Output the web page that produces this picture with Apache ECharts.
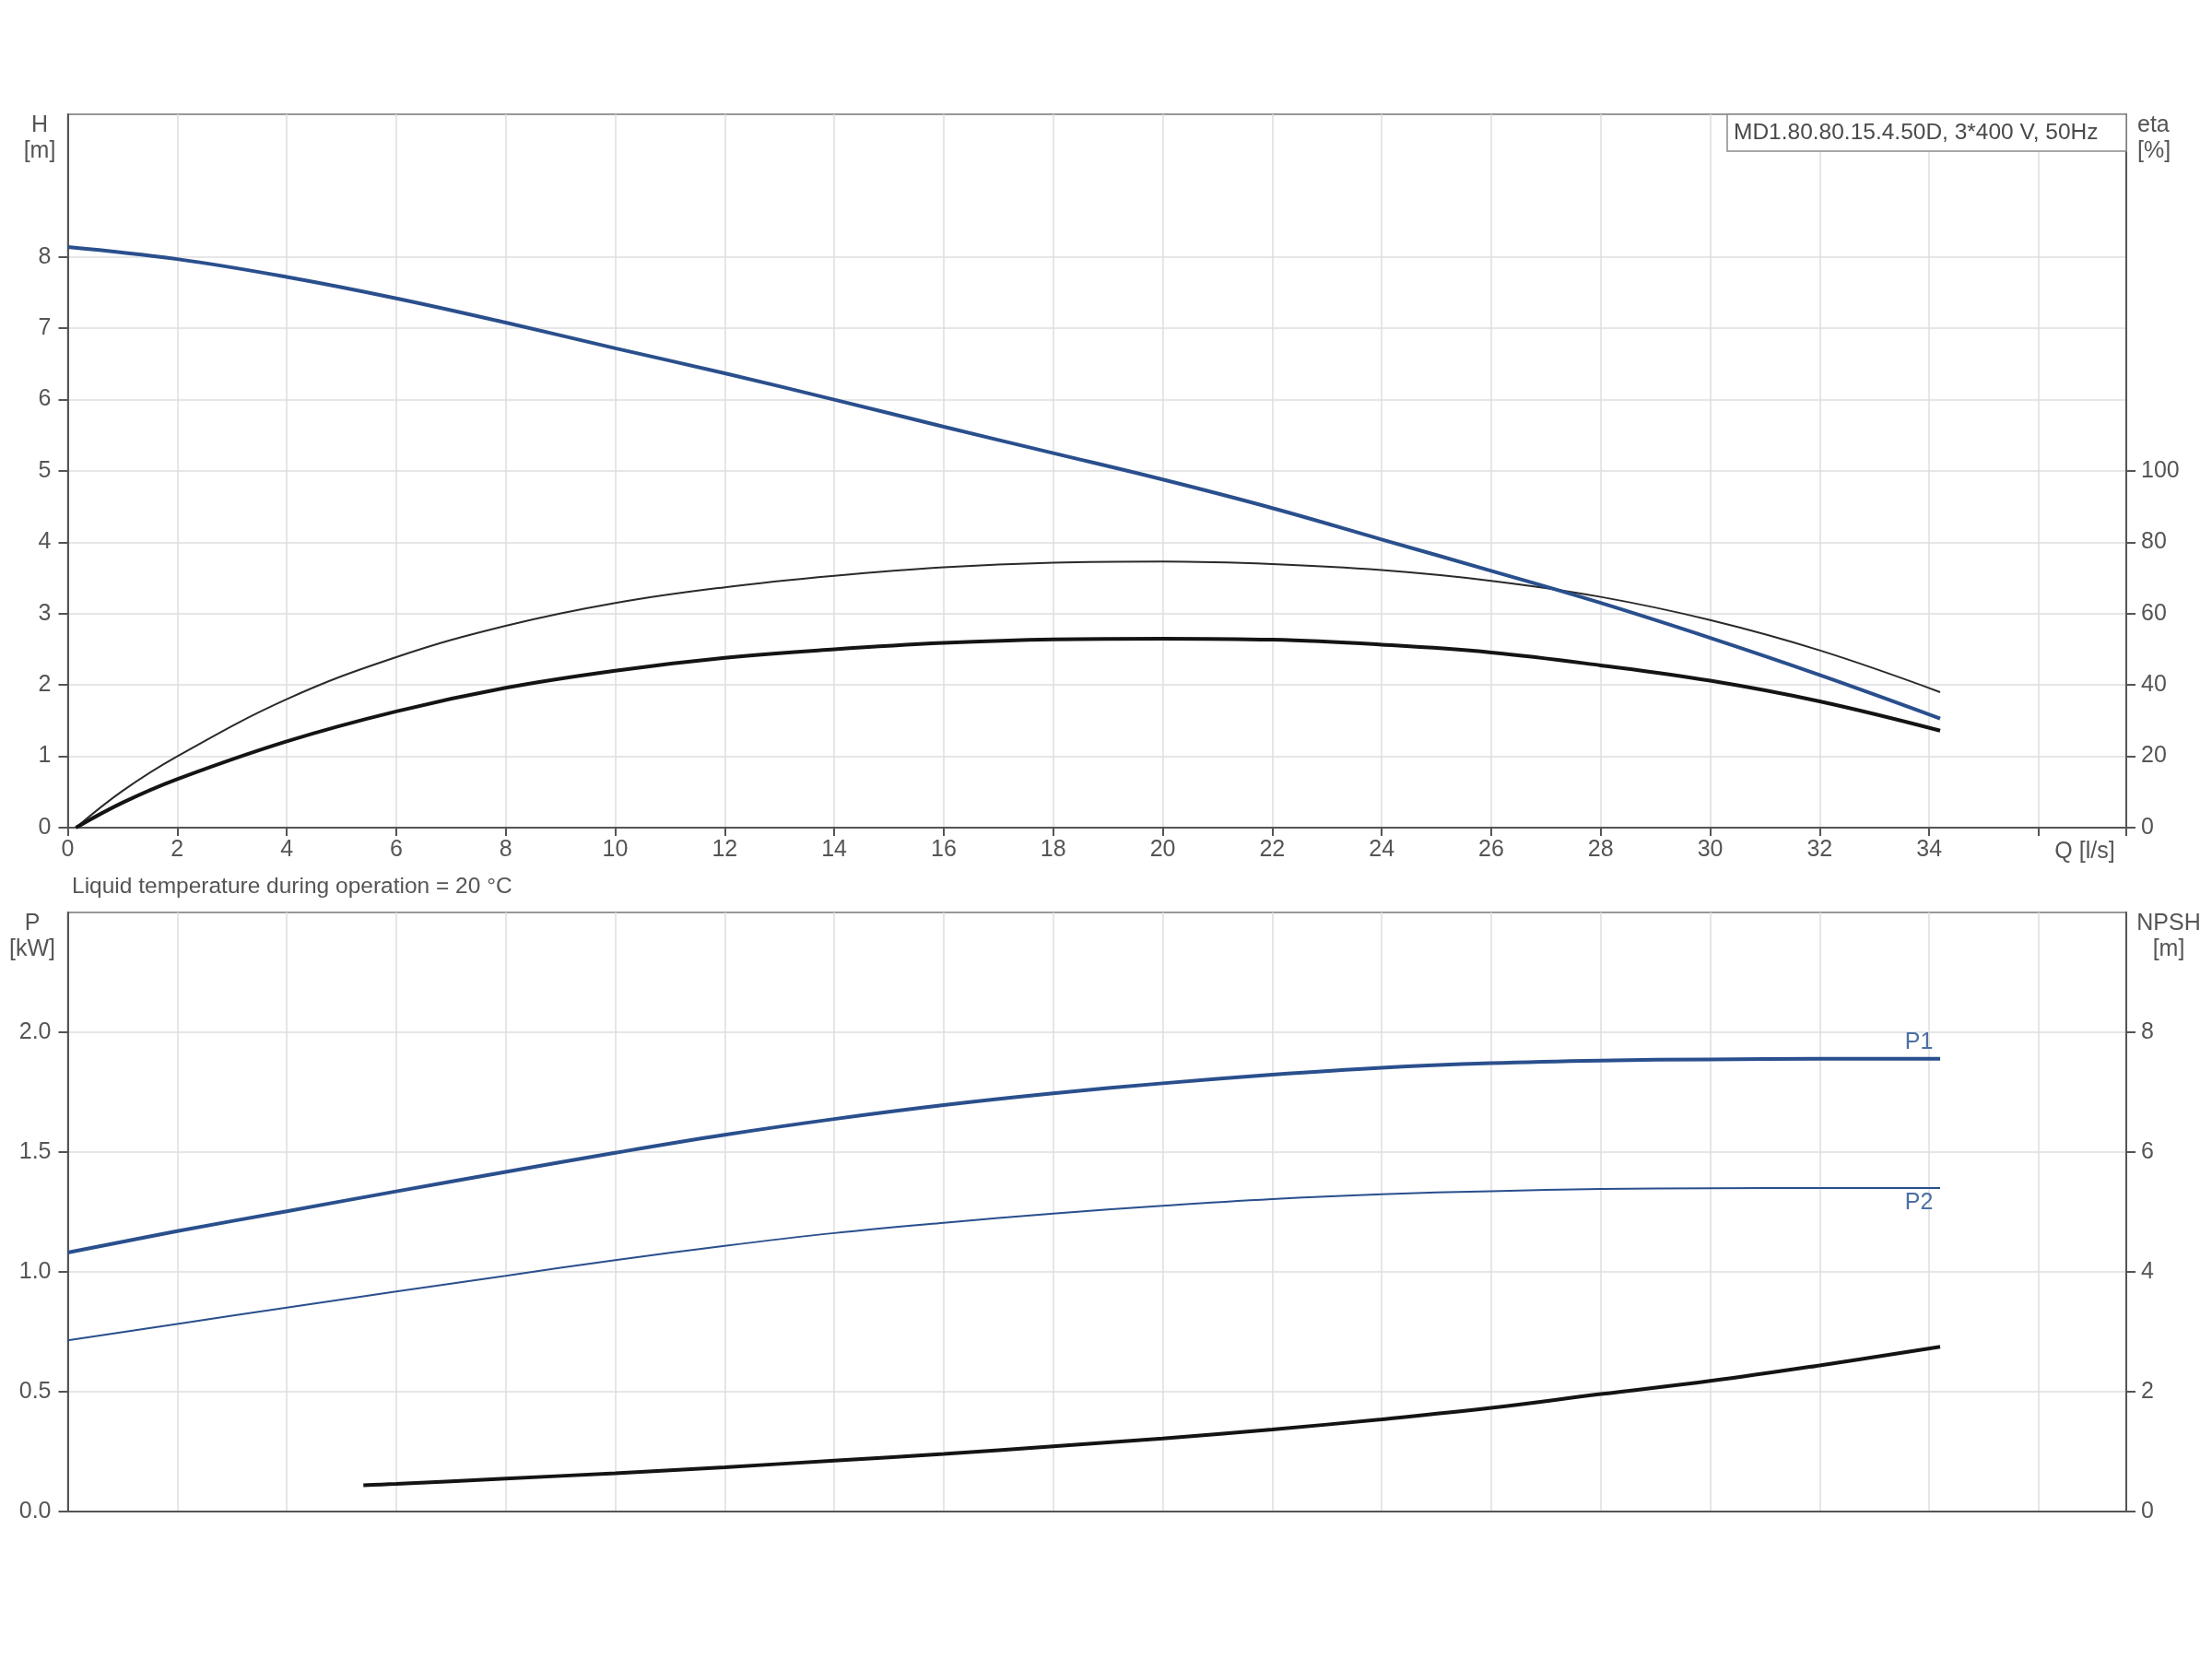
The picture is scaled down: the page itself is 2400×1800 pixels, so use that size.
<!DOCTYPE html>
<html>
<head>
<meta charset="utf-8">
<script src="https://cdn.jsdelivr.net/npm/echarts@6/dist/echarts.min.js"></script>
<style>
html,body{margin:0;padding:0;background:#fff;}
#chart{width:2400px;height:1800px;}
</style>
</head>
<body>
<div id="chart"></div>
<script>
// ---- Data ----
const qH = [0, 2, 4, 6, 8, 10, 12, 14, 16, 18, 20, 22, 24, 26, 28, 30, 32, 34.2];
const headH = [8.14, 7.97, 7.72, 7.42, 7.08, 6.72, 6.37, 6.0, 5.62, 5.25, 4.88, 4.48, 4.04, 3.60, 3.15, 2.66, 2.14, 1.53];

const qEta = [0.15, 1, 2, 4, 6, 8, 10, 12, 14, 16, 18, 20, 22, 24, 26, 28, 30, 32, 34.2];
const etaPump = [0, 10.3, 20, 36.0, 47.8, 56.6, 63, 67.4, 70.6, 73, 74.3, 74.6, 73.9, 72.2, 69.2, 64.7, 58.2, 49.7, 38];
const etaTotal = [0, 7, 13.6, 24.2, 32.6, 39.2, 44, 47.6, 50, 51.8, 52.8, 53, 52.7, 51.3, 49.1, 45.5, 41.2, 35.4, 27.2];

const qP = [0, 2, 4, 6, 8, 10, 12, 14, 16, 18, 20, 22, 24, 26, 28, 30, 32, 34.2];
const powerP1 = [1.081, 1.17, 1.253, 1.336, 1.417, 1.497, 1.572, 1.638, 1.696, 1.745, 1.787, 1.823, 1.852, 1.871, 1.882, 1.887, 1.889, 1.889];
const powerP2 = [0.714, 0.783, 0.851, 0.918, 0.984, 1.049, 1.109, 1.162, 1.205, 1.243, 1.276, 1.304, 1.324, 1.337, 1.346, 1.349, 1.35, 1.35];

const qNpsh = [5.4, 6, 8, 10, 12, 14, 16, 18, 20, 22, 24, 26, 28, 30, 32, 34.2];
const npsh = [0.44, 0.46, 0.55, 0.64, 0.74, 0.85, 0.96, 1.09, 1.22, 1.37, 1.54, 1.73, 1.96, 2.18, 2.44, 2.75];

const hTickLabels = [0, 1, 2, 3, 4, 5, 6, 7, 8];
const etaTickLabels = [0, 20, 40, 60, 80, 100];
const pTickLabels = [0, 0.5, 1.0, 1.5, 2.0];
const npshTickLabels = [0, 2, 4, 6, 8];
const qLastLabel = 34;

const titleText = 'MD1.80.80.15.4.50D, 3*400 V, 50Hz';
const noteText = 'Liquid temperature during operation = 20 °C';

// ---- Build ----
const pairs = (xs, ys) => xs.map((x, i) => [x, ys[i]]);
const FONT = "'Liberation Sans', Arial, sans-serif";
const TXT = '#555';
const AXIS = '#555';
const GRIDC = '#dedede';
const BLUE = '#2a4f8d';
const BLACK = '#141414';
const FS = 25;

const gridL = 73.5, gridR = 93;
const top1 = 124, h1 = 774;
const top2 = 990, h2 = 650;

function xAxisDef(gridIndex, showLabels) {
  return {
    type: 'value', gridIndex, min: 0, max: 37.6, interval: 2,
    axisLine: {show: true, onZero: false, lineStyle: {color: AXIS, width: 2}},
    axisTick: {show: showLabels, length: 9, lineStyle: {color: AXIS, width: 2}},
    axisLabel: {show: showLabels, margin: 12, color: TXT, fontSize: FS, fontFamily: FONT,
      formatter: v => (v <= qLastLabel + 1e-9 && Math.abs(v - Math.round(v)) < 1e-9) ? String(v) : ''},
    splitLine: {show: true, lineStyle: {color: GRIDC, width: 1.5}}
  };
}
function yAxisDef(gridIndex, pos, min, max, interval, labels, fmt, split) {
  return {
    type: 'value', gridIndex, position: pos, min, max, interval,
    axisLine: {show: true, onZero: false, lineStyle: {color: AXIS, width: 2}},
    axisTick: {show: true, length: 10, customValues: labels, lineStyle: {color: AXIS, width: 2}},
    axisLabel: {show: true, customValues: labels, margin: pos === 'left' ? 18 : 16, color: TXT,
      fontSize: FS, fontFamily: FONT, formatter: fmt},
    splitLine: {show: split, lineStyle: {color: GRIDC, width: 1.5}}
  };
}
function curve(name, xi, yi, xs, ys, color, width, extra) {
  return Object.assign({
    name, type: 'line', xAxisIndex: xi, yAxisIndex: yi, data: pairs(xs, ys),
    showSymbol: false, symbol: 'none', smooth: 0.4,
    lineStyle: {color, width}, z: 5
  }, extra || {});
}

const option = {
  backgroundColor: '#fff',
  animation: false,
  grid: [
    {left: gridL, right: gridR, top: top1, height: h1, show: true, borderColor: '#777', borderWidth: 1.5, backgroundColor: 'transparent'},
    {left: gridL, right: gridR, top: top2, height: h2, show: true, borderColor: '#777', borderWidth: 1.5, backgroundColor: 'transparent'}
  ],
  xAxis: [xAxisDef(0, true), xAxisDef(1, false)],
  yAxis: [
    yAxisDef(0, 'left', 0, 10, 1, hTickLabels, v => String(v), true),
    yAxisDef(0, 'right', 0, 200, 20, etaTickLabels, v => String(v), false),
    yAxisDef(1, 'left', 0, 2.5, 0.5, pTickLabels, v => v.toFixed(1), true),
    yAxisDef(1, 'right', 0, 10, 2, npshTickLabels, v => String(v), false)
  ],
  series: [
    curve('H', 0, 0, qH, headH, BLUE, 4),
    curve('eta pump', 0, 1, qEta, etaPump, '#2a2a2a', 2, {z: 4}),
    curve('eta total', 0, 1, qEta, etaTotal, BLACK, 4, {z: 4}),
    curve('P1', 1, 2, qP, powerP1, BLUE, 4, {
      endLabel: {show: true, formatter: 'P1', distance: 0, align: 'center', verticalAlign: 'middle',
        offset: [-23, -18], color: '#4d6fa3', fontSize: FS, fontFamily: FONT}}),
    curve('P2', 1, 2, qP, powerP2, BLUE, 2, {
      endLabel: {show: true, formatter: 'P2', distance: 0, align: 'center', verticalAlign: 'middle',
        offset: [-23, 16], color: '#4d6fa3', fontSize: FS, fontFamily: FONT}}),
    curve('NPSH', 1, 3, qNpsh, npsh, BLACK, 4)
  ],
  graphic: [
    {type: 'text', x: 43, y: 122, style: {text: 'H\n[m]', fill: TXT, font: FS + 'px ' + FONT, align: 'center', verticalAlign: 'top', lineHeight: 28}},
    {type: 'text', x: 2319, y: 122, style: {text: 'eta\n[%]', fill: TXT, font: FS + 'px ' + FONT, align: 'left', verticalAlign: 'top', lineHeight: 28}},
    {type: 'text', x: 35, y: 988, style: {text: 'P\n[kW]', fill: TXT, font: FS + 'px ' + FONT, align: 'center', verticalAlign: 'top', lineHeight: 28}},
    {type: 'text', x: 2353, y: 988, style: {text: 'NPSH\n[m]', fill: TXT, font: FS + 'px ' + FONT, align: 'center', verticalAlign: 'top', lineHeight: 28}},
    {type: 'text', x: 2262, y: 924, style: {text: 'Q [l/s]', fill: TXT, font: FS + 'px ' + FONT, align: 'center', verticalAlign: 'middle'}},
    {type: 'text', x: 78, y: 962, style: {text: noteText, fill: TXT, font: '24.5px ' + FONT, align: 'left', verticalAlign: 'middle'}},
    {type: 'rect', z: 10, shape: {x: 1874, y: 124, width: 433, height: 40}, style: {fill: '#fff', stroke: '#8a8a8a', lineWidth: 1.5}},
    {type: 'text', z: 11, x: 1881, y: 144, style: {text: titleText, fill: '#4a4a4a', font: '24.5px ' + FONT, align: 'left', verticalAlign: 'middle'}}
  ]
};

const chart = echarts.init(document.getElementById('chart'), null, {renderer: 'canvas'});
chart.setOption(option);
</script>
</body>
</html>
